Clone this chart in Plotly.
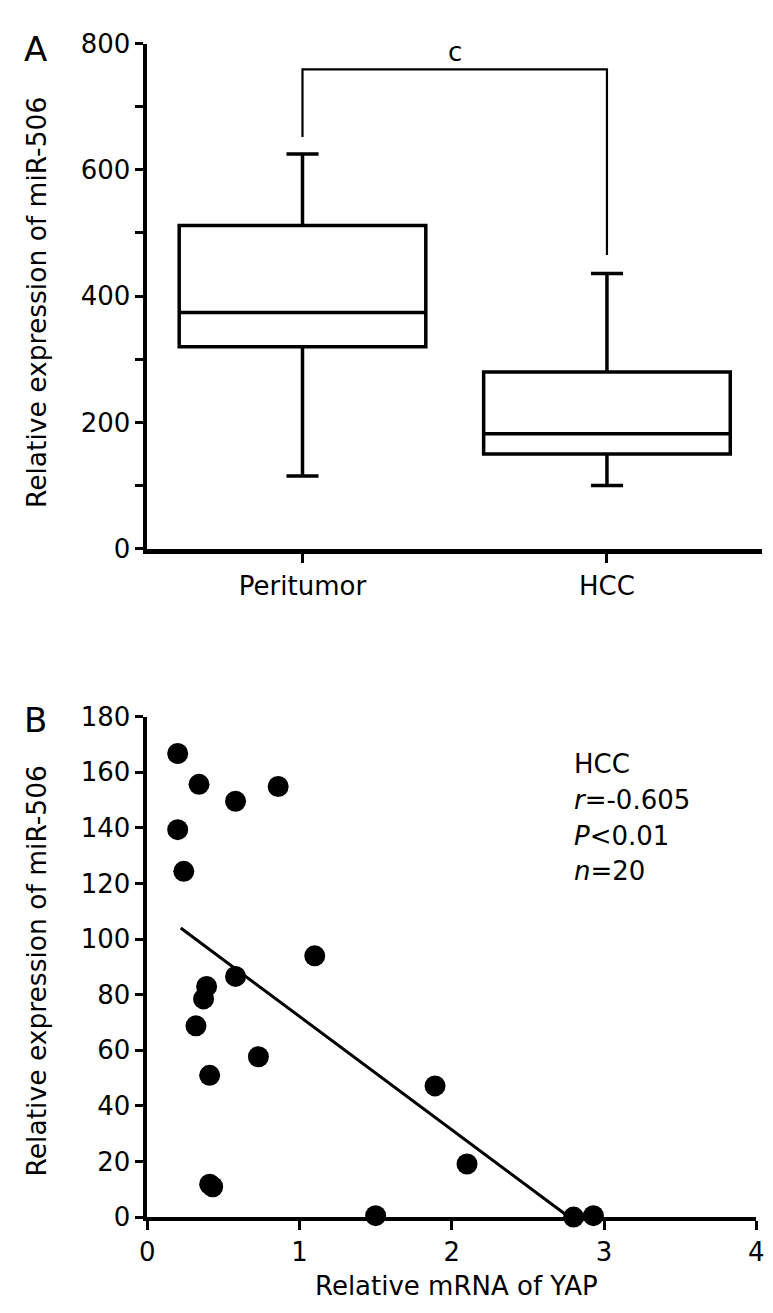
import plotly.graph_objects as go

# ---------------- data ----------------
# Panel A: box summary values
groups = ["Peritumor", "HCC"]
group_pos = [0, 1]
q1 = [320, 150]
median = [374, 182]
q3 = [512, 280]
lower_whisker = [115, 100]
upper_whisker = [625, 436]

# significance bracket (data units)
bracket_x = [0, 0, 1, 1]
bracket_y = [652, 759, 759, 465]
bracket_label = "c"
bracket_label_y = 786

# Panel B: scatter points (Relative mRNA of YAP vs Relative expression of miR-506)
yap = [0.20, 0.34, 0.58, 0.86, 0.20, 0.24, 1.10, 0.58, 0.39, 0.37,
       0.32, 0.73, 0.41, 1.89, 2.10, 0.43, 0.41, 1.50, 2.80, 2.93]
mir506 = [166.8, 155.7, 149.6, 154.9, 139.4, 124.4, 94.0, 86.6, 83.0, 78.5,
          68.8, 57.7, 51.0, 47.2, 19.1, 10.9, 11.8, 0.5, 0.0, 0.5]
# regression line end points
fit_x = [0.22, 2.77]
fit_y = [104, 0]

stats_lines = ["HCC", "<i>r</i>=-0.605", "<i>P</i>&lt;0.01", "<i>n</i>=20"]
stats_y = [163, 150, 137, 124.5]

W, H = 773, 1313
FONT = "DejaVu Sans"
FS = 26

fig = go.Figure()

for i in range(len(groups)):
    fig.add_trace(go.Box(
        x=[group_pos[i]], q1=[q1[i]], median=[median[i]], q3=[q3[i]],
        lowerfence=[lower_whisker[i]], upperfence=[upper_whisker[i]],
        width=0.81, whiskerwidth=0.13, boxpoints=False,
        line=dict(color="black", width=3.5), fillcolor="white",
        xaxis="x", yaxis="y", showlegend=False, hoverinfo="skip"))

fig.add_trace(go.Scatter(x=bracket_x, y=bracket_y, mode="lines",
                         line=dict(color="black", width=2.2),
                         xaxis="x", yaxis="y", showlegend=False, hoverinfo="skip"))

fig.add_trace(go.Scatter(x=fit_x, y=fit_y, mode="lines",
                         line=dict(color="black", width=3),
                         xaxis="x2", yaxis="y2", showlegend=False, cliponaxis=False))
fig.add_trace(go.Scatter(x=yap, y=mir506, mode="markers",
                         marker=dict(color="black", size=21, line=dict(width=0)),
                         xaxis="x2", yaxis="y2", showlegend=False, cliponaxis=False))

axis_common = dict(showline=True, linecolor="black", ticks="outside", tickcolor="black",
                   showgrid=False, zeroline=False,
                   tickfont=dict(family=FONT, size=FS, color="black"))

def py(px):
    return (H - px) / H

fig.update_layout(
    width=W, height=H, margin=dict(l=0, r=0, t=0, b=0),
    paper_bgcolor="white", plot_bgcolor="white",
    font=dict(family=FONT, size=FS, color="black"),
    xaxis=dict(domain=[134 / W, 762 / W], range=[-0.51, 1.51], tickvals=group_pos,
               ticktext=groups, anchor="y", linewidth=4.5, ticklen=10, tickwidth=3,
               **axis_common),
    yaxis=dict(domain=[py(538), py(21)], range=[0, 800], tickvals=[0, 200, 400, 600, 800],
               anchor="x", linewidth=3.5, ticklen=8, tickwidth=3,
               minor=dict(tickvals=[100, 300, 500, 700], ticks="outside", ticklen=8,
                          tickwidth=3, tickcolor="black"),
               **axis_common),
    xaxis2=dict(domain=[134 / W, 756 / W], range=[0, 4], tickvals=[0, 1, 2, 3, 4],
                anchor="y2", linewidth=3.5, ticklen=9, tickwidth=3, **axis_common),
    yaxis2=dict(domain=[py(1222), py(710)], range=[0, 180], dtick=20,
                anchor="x2", linewidth=3.5, ticklen=8, tickwidth=3, **axis_common),
)

ann = []
ann.append(dict(x=0.5, y=bracket_label_y, xref="x", yref="y", text=bracket_label,
                showarrow=False, font=dict(size=FS)))
for t, yv in zip(stats_lines, stats_y):
    ann.append(dict(x=2.79, y=yv, xref="x2", yref="y2", text=t, showarrow=False,
                    xanchor="left", yanchor="middle", font=dict(size=FS)))
ann.append(dict(x=21 / W, y=py(286), xref="paper", yref="paper",
                text="Relative expression of miR-506", textangle=-90, showarrow=False,
                xanchor="center", yanchor="middle", font=dict(size=26.5)))
ann.append(dict(x=21 / W, y=py(970), xref="paper", yref="paper",
                text="Relative expression of miR-506", textangle=-90, showarrow=False,
                xanchor="center", yanchor="middle", font=dict(size=26.5)))
ann.append(dict(x=450 / W, y=py(1293), xref="paper", yref="paper",
                text="Relative mRNA of YAP", showarrow=False,
                xanchor="center", yanchor="middle", font=dict(size=FS)))
ann.append(dict(x=6 / W, y=py(27), xref="paper", yref="paper", text="A",
                showarrow=False, xanchor="left", yanchor="middle", font=dict(size=34)))
ann.append(dict(x=6 / W, y=py(713), xref="paper", yref="paper", text="B",
                showarrow=False, xanchor="left", yanchor="middle", font=dict(size=34)))
fig.update_layout(annotations=ann)

fig.write_html("out.html")
